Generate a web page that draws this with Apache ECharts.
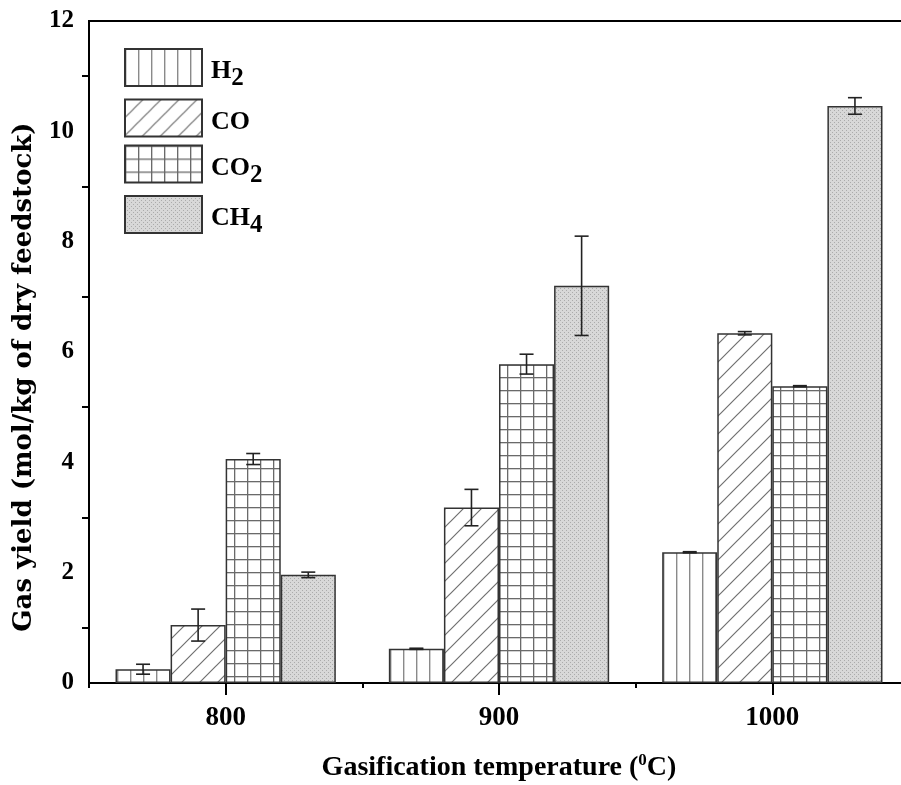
<!DOCTYPE html>
<html><head><meta charset="utf-8">
<script src="https://cdn.jsdelivr.net/npm/echarts@6/dist/echarts.min.js"></script>
<style>html,body{margin:0;padding:0;background:#fff}#c{width:901px;height:785px}</style>
</head><body><div id="c"></div>
<script>
const categories = ['800', '900', '1000'];
const gases = ['H2', 'CO', 'CO2', 'CH4'];
const h2 = [0.25, 0.62, 2.37];
const co = [1.05, 3.18, 6.34];
const co2 = [4.06, 5.78, 5.38];
const ch4 = [1.96, 7.20, 10.46];
const h2Err = [0.09, 0.01, 0.01];
const coErr = [0.29, 0.33, 0.03];
const co2Err = [0.10, 0.18, 0.01];
const ch4Err = [0.05, 0.90, 0.15];
const yTicks = [0, 2, 4, 6, 8, 10, 12];

const SERIF = '"Liberation Serif", "Times New Roman", serif';
const WIDE = '"DejaVu Serif", "Liberation Serif", serif';
const GAP = 0.194;

function makePattern(w, h, draw) {
  const c = document.createElement('canvas');
  c.width = w; c.height = h;
  const ctx = c.getContext('2d');
  ctx.fillStyle = '#fff'; ctx.fillRect(0, 0, w, h);
  draw(ctx, w, h);
  return { image: c, repeat: 'repeat' };
}
const patVert = makePattern(13, 4, (ctx, w, h) => {
  ctx.fillStyle = '#8a8a8a'; ctx.fillRect(0, 0, 1.4, h);
});
const patDiag = makePattern(18, 18, (ctx, w, h) => {
  ctx.strokeStyle = '#707070'; ctx.lineWidth = 1.2;
  ctx.beginPath();
  ctx.moveTo(-2, h + 2); ctx.lineTo(w + 2, -2);
  ctx.moveTo(-2, 2); ctx.lineTo(2, -2);
  ctx.moveTo(w - 2, h + 2); ctx.lineTo(w + 2, h - 2);
  ctx.stroke();
});
const patGrid = makePattern(13, 13, (ctx, w, h) => {
  ctx.fillStyle = '#6a6a6a';
  ctx.fillRect(0, 0, 1.3, h);
  ctx.fillRect(0, 0, w, 1.3);
});
const patDots = makePattern(4, 4, (ctx, w, h) => {
  ctx.fillStyle = '#d8d8d8'; ctx.fillRect(0, 0, w, h);
  ctx.fillStyle = '#ababab';
  ctx.fillRect(0, 0, 1, 1); ctx.fillRect(2, 2, 1, 1);
});

const fills = [patVert, patDiag, patGrid, patDots];
const values = [h2, co, co2, ch4];
const errs = [h2Err, coErr, co2Err, ch4Err];
const labels = {
  H2: '{n|H}{s|2}', CO: '{n|CO}', CO2: '{n|CO}{s|2}', CH4: '{n|CH}{s|4}'
};

const errData = [];
for (let k = 0; k < 4; k++) {
  for (let i = 0; i < categories.length; i++) {
    errData.push([i, values[k][i], errs[k][i], k]);
  }
}

const chart = echarts.init(document.getElementById('c'));
const series = gases.map((g, k) => ({
  name: g,
  type: 'bar',
  data: values[k],
  barGap: '0%',
  barCategoryGap: (GAP * 100) + '%',
  itemStyle: { color: fills[k], borderColor: '#333', borderWidth: 1.5 },
  emphasis: { disabled: true }
}));
series.push({
  type: 'custom',
  name: 'err',
  data: errData,
  z: 10,
  renderItem: function (params, api) {
    const cat = api.value(0), v = api.value(1), e = api.value(2), k = api.value(3);
    const catW = api.size([1, 0])[0];
    const barW = catW * (1 - GAP) / 4;
    const x = api.coord([cat, v])[0] + (k - 1.5) * barW;
    const yt = api.coord([cat, v + e])[1];
    const yb = api.coord([cat, v - e])[1];
    const cap = 7;
    const st = { stroke: '#222', lineWidth: 1.6, fill: null };
    return {
      type: 'group',
      children: [
        { type: 'line', shape: { x1: x, y1: yt, x2: x, y2: yb }, style: st },
        { type: 'line', shape: { x1: x - cap, y1: yt, x2: x + cap, y2: yt }, style: st },
        { type: 'line', shape: { x1: x - cap, y1: yb, x2: x + cap, y2: yb }, style: st }
      ]
    };
  }
});

const txt = { fontFamily: SERIF, fontWeight: 'bold', color: '#000' };

chart.setOption({
  animation: false,
  backgroundColor: '#fff',
  grid: {
    left: 89, top: 21, width: 820, height: 662,
    outerBoundsMode: 'none', containLabel: false,
    show: true, borderColor: '#000', borderWidth: 2, backgroundColor: 'transparent'
  },
  legend: {
    data: gases,
    orient: 'vertical',
    left: 124, top: 48, padding: 0,
    itemWidth: 77, itemHeight: 37, itemGap: 7,
    icon: 'rect',
    formatter: n => labels[n],
    textStyle: {
      padding: [8, 0, 0, 4],
      rich: {
        n: Object.assign({ fontSize: 26, lineHeight: 40, verticalAlign: 'middle' }, txt),
        s: Object.assign({ fontSize: 25, lineHeight: 24, verticalAlign: 'bottom' }, txt)
      }
    }
  },
  xAxis: [{
    type: 'category',
    data: categories,
    name: '{t|Gasification temperature (}{u|0}{t|C)}',
    nameLocation: 'middle',
    nameGap: 71,
    nameTextStyle: {
      rich: {
        t: Object.assign({ fontSize: 28, verticalAlign: 'top', lineHeight: 32 }, txt),
        u: Object.assign({ fontSize: 17, verticalAlign: 'top', lineHeight: 32, padding: [-2, 0, 0, 0] }, txt)
      }
    },
    axisLine: { lineStyle: { color: '#000', width: 2 } },
    axisTick: { show: true, interval: 0, alignWithLabel: true, length: 12, lineStyle: { color: '#000', width: 2 } },
    axisLabel: Object.assign({ fontSize: 27, margin: 22 }, txt)
  }, {
    type: 'category',
    data: categories,
    position: 'bottom',
    axisLine: { show: false },
    axisTick: { show: true, interval: 0, length: 5, lineStyle: { color: '#000', width: 2 } },
    axisLabel: { show: false }
  }],
  yAxis: {
    type: 'value',
    min: 0, max: 12, interval: 2,
    name: 'Gas yield (mol/kg of dry feedstock)',
    nameLocation: 'middle',
    nameGap: 52,
    nameTextStyle: { fontFamily: WIDE, fontWeight: 'bold', color: '#000', fontSize: 26, padding: [0, 50, 0, 0] },
    axisLine: { show: true, lineStyle: { color: '#000', width: 2 } },
    axisTick: { show: false },
    minorTick: { show: true, splitNumber: 2, length: 7, lineStyle: { color: '#000', width: 2 } },
    splitLine: { show: false },
    axisLabel: Object.assign({
      fontSize: 25, margin: 15,
      formatter: v => yTicks.includes(v) ? String(v) : ''
    }, txt)
  },
  series: series
});
</script>
</body></html>
